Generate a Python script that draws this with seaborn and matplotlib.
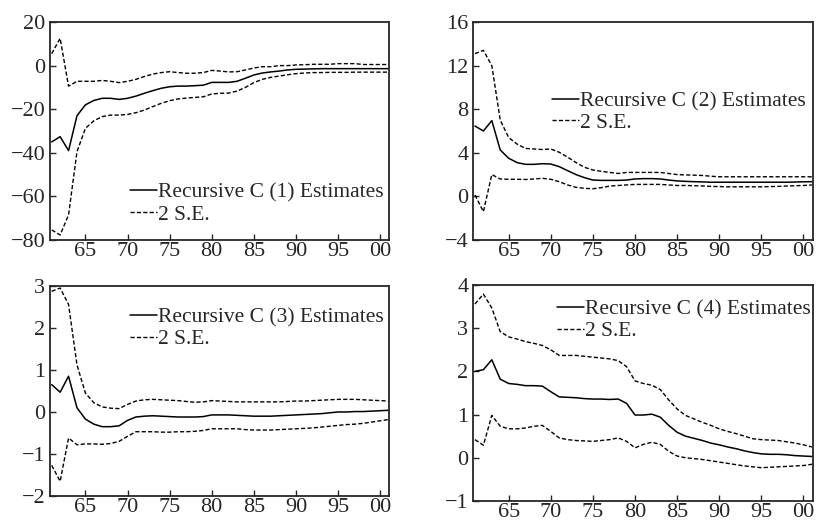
import matplotlib
matplotlib.use('Agg')
import matplotlib.pyplot as plt
import seaborn as sns
import numpy as np

# Years of the recursive estimates
years = list(range(1961, 2002))

# C(1)
c1_est = [-35, -32.6, -39, -23, -18, -16, -15, -15, -15.5, -15,
          -14, -12.7, -11.5, -10.4, -9.7, -9.4, -9.4, -9.2, -9, -7.7,
          -7.7, -7.7, -7.2, -5.8, -4.3, -3.4, -2.9, -2.5, -2, -1.7,
          -1.6, -1.5, -1.4, -1.4, -1.4, -1.4, -1.4, -1.4, -1.4, -1.4, -1.4]
c1_up = [5.5, 12.5, -9.4, -7.2, -7.2, -7.2, -6.8, -7.2, -7.8, -7.2,
         -6.3, -5, -3.9, -3.2, -2.8, -3.2, -3.5, -3.5, -3.2, -2.2,
         -2.5, -2.9, -2.8, -2, -1.1, -0.5, -0.5, 0, 0, 0.3,
         0.4, 0.6, 0.6, 0.6, 0.9, 0.9, 0.9, 0.5, 0.5, 0.5, 0.5]
c1_lo = [-75.4, -77.7, -68.5, -39.5, -28.8, -25.3, -23.4, -22.7, -22.7, -22.4,
         -21.6, -20.4, -18.8, -17.3, -16.1, -15.3, -14.9, -14.6, -14.3, -13,
         -12.7, -12.6, -11.7, -10, -7.8, -6.3, -5.4, -4.8, -4.2, -3.7,
         -3.4, -3.2, -3.2, -3.1, -3.1, -3.1, -3.0, -3.0, -3.0, -3.0, -3.0]

# C(2)
c2_est = [6.46, 6.0, 6.95, 4.26, 3.5, 3.1, 2.94, 2.94, 3.0, 2.97,
          2.73, 2.36, 2.0, 1.72, 1.5, 1.47, 1.47, 1.47, 1.5, 1.6,
          1.63, 1.63, 1.6, 1.5, 1.42, 1.38, 1.35, 1.33, 1.3, 1.3,
          1.3, 1.3, 1.3, 1.3, 1.3, 1.3, 1.3, 1.3, 1.32, 1.34, 1.35]
c2_up = [13.1, 13.4, 12.0, 7.0, 5.4, 4.8, 4.4, 4.35, 4.3, 4.35,
         4.05, 3.6, 3.1, 2.67, 2.42, 2.3, 2.2, 2.1, 2.2, 2.2,
         2.2, 2.2, 2.2, 2.1, 2.0, 1.97, 1.95, 1.92, 1.85, 1.8,
         1.8, 1.8, 1.8, 1.8, 1.8, 1.8, 1.8, 1.8, 1.8, 1.8, 1.8]
c2_lo = [0.13, -1.4, 2.0, 1.6, 1.57, 1.57, 1.55, 1.6, 1.66, 1.57,
         1.35, 1.05, 0.83, 0.74, 0.7, 0.8, 0.95, 1.0, 1.05, 1.1,
         1.1, 1.1, 1.1, 1.05, 1.0, 1.0, 0.98, 0.96, 0.92, 0.9,
         0.88, 0.88, 0.88, 0.88, 0.88, 0.9, 0.92, 0.95, 0.98, 1.0, 1.05]

# C(3)
c3_est = [0.65, 0.47, 0.85, 0.1, -0.17, -0.29, -0.35, -0.35, -0.33, -0.2,
          -0.12, -0.1, -0.09, -0.1, -0.11, -0.12, -0.12, -0.12, -0.11, -0.07,
          -0.07, -0.07, -0.08, -0.09, -0.1, -0.1, -0.1, -0.09, -0.08, -0.07,
          -0.06, -0.05, -0.04, -0.02, 0, 0, 0.01, 0.01, 0.02, 0.03, 0.04]
c3_up = [2.87, 2.95, 2.56, 1.12, 0.45, 0.22, 0.12, 0.09, 0.08, 0.18,
         0.26, 0.29, 0.3, 0.29, 0.28, 0.27, 0.25, 0.23, 0.24, 0.27,
         0.26, 0.25, 0.24, 0.24, 0.24, 0.24, 0.24, 0.24, 0.25, 0.26,
         0.26, 0.27, 0.28, 0.29, 0.3, 0.3, 0.3, 0.29, 0.28, 0.27, 0.26]
c3_lo = [-1.27, -1.65, -0.62, -0.78, -0.76, -0.76, -0.77, -0.75, -0.7, -0.58,
         -0.47, -0.47, -0.47, -0.48, -0.48, -0.47, -0.47, -0.46, -0.44, -0.4,
         -0.4, -0.4, -0.4, -0.42, -0.43, -0.43, -0.43, -0.42, -0.41, -0.4,
         -0.39, -0.38, -0.36, -0.34, -0.32, -0.3, -0.29, -0.27, -0.24, -0.21, -0.18]

# C(4)
c4_est = [2.0, 2.04, 2.27, 1.82, 1.72, 1.70, 1.67, 1.67, 1.66, 1.53,
          1.41, 1.40, 1.39, 1.37, 1.36, 1.36, 1.35, 1.36, 1.26, 0.99,
          0.99, 1.01, 0.94, 0.75, 0.59, 0.5, 0.45, 0.40, 0.34, 0.30,
          0.25, 0.21, 0.16, 0.12, 0.09, 0.08, 0.08, 0.07, 0.05, 0.04, 0.03]
c4_up = [3.56, 3.79, 3.47, 2.92, 2.8, 2.75, 2.69, 2.65, 2.6, 2.5,
         2.37, 2.37, 2.37, 2.35, 2.33, 2.31, 2.29, 2.25, 2.11, 1.78,
         1.72, 1.68, 1.58, 1.34, 1.13, 0.98, 0.9, 0.82, 0.75, 0.67,
         0.61, 0.56, 0.5, 0.44, 0.42, 0.41, 0.4, 0.37, 0.34, 0.3, 0.25]
c4_lo = [0.42, 0.29, 0.98, 0.73, 0.67, 0.67, 0.69, 0.73, 0.75, 0.61,
         0.46, 0.42, 0.40, 0.39, 0.38, 0.40, 0.42, 0.46, 0.38, 0.23,
         0.31, 0.36, 0.31, 0.15, 0.04, 0, -0.02, -0.04, -0.07, -0.1,
         -0.13, -0.16, -0.19, -0.21, -0.23, -0.22, -0.21, -0.2, -0.19, -0.18, -0.15]

xticks = [1965, 1970, 1975, 1980, 1985, 1990, 1995, 2000]
xticklabels = ['65', '70', '75', '80', '85', '90', '95', '00']

sns.set_style('ticks')
plt.rcParams['font.family'] = ['Liberation Serif', 'DejaVu Serif']
plt.rcParams['axes.linewidth'] = 1.3

fig = plt.figure(figsize=(8.16, 5.24), dpi=100)

# [left, bottom, width, height], ylim, yticks, legend anchor
panels = [
    ([0.0613, 0.542, 0.416, 0.416], c1_est, c1_up, c1_lo, (-80, 20), [-80, -60, -40, -20, 0, 20], (0.236, 0.262), 1),
    ([0.580, 0.542, 0.416, 0.416], c2_est, c2_up, c2_lo, (-4, 16), [-4, 0, 4, 8, 12, 16], (0.233, 0.682), 2),
    ([0.0613, 0.0534, 0.416, 0.401], c3_est, c3_up, c3_lo, (-2, 3), [-2, -1, 0, 1, 2, 3], (0.236, 0.896), 3),
    ([0.580, 0.044, 0.416, 0.412], c4_est, c4_up, c4_lo, (-1, 4), [-1, 0, 1, 2, 3, 4], (0.248, 0.932), 4),
]

dash = (0, (3, 1.6))
for rect, est, up, lo, ylim, yticks, anchor, k in panels:
    ax = fig.add_axes(rect)
    sns.lineplot(x=years, y=est, ax=ax, color='black', lw=1.1, label=f'Recursive C ({k}) Estimates')
    sns.lineplot(x=years, y=up, ax=ax, color='black', lw=1.0, linestyle=dash, label='2 S.E.')
    sns.lineplot(x=years, y=lo, ax=ax, color='black', lw=1.0, linestyle=dash, label='_nolegend_')
    ax.set_xlim(1960.8, 2001.1)
    ax.set_ylim(*ylim)
    ax.set_xticks(xticks)
    ax.set_xticklabels(xticklabels)
    ax.set_yticks(yticks)
    ax.tick_params(direction='in', length=4, width=1, labelsize=16)
    ax.tick_params(axis='x', pad=1.5)
    ax.tick_params(axis='y', pad=3.5)
    for s in ax.spines.values():
        s.set_visible(True)
    ax.legend(loc='upper left', bbox_to_anchor=anchor, frameon=False, fontsize=15.5,
              handlelength=1.25, handletextpad=0.05, labelspacing=0.07, borderpad=0,
              borderaxespad=0)

plt.savefig('out.png', dpi=100)
